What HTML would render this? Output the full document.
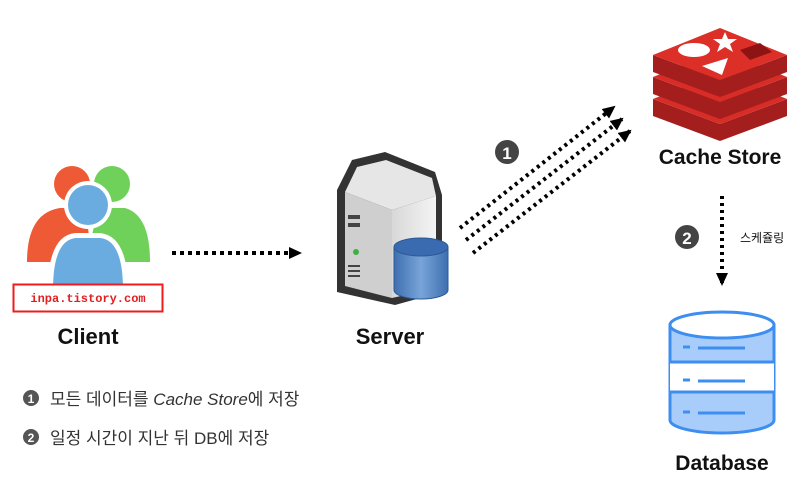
<!DOCTYPE html>
<html><head><meta charset="utf-8"><style>
html,body{margin:0;padding:0;background:#fff;width:810px;height:487px;overflow:hidden}
</style></head><body>
<svg width="810" height="487" viewBox="0 0 810 487" xmlns="http://www.w3.org/2000/svg" font-family="'Liberation Sans','Noto Sans CJK KR',sans-serif">
<defs>
<marker id="ah" markerWidth="13" markerHeight="12" refX="11" refY="6" orient="auto" markerUnits="userSpaceOnUse"><path d="M0,0 L13,6 L0,12 z" fill="#000"/></marker>
<linearGradient id="srv" x1="0" x2="1"><stop offset="0" stop-color="#d8d8d8"/><stop offset="1" stop-color="#f4f4f4"/></linearGradient>
<linearGradient id="cyl" x1="0" x2="1"><stop offset="0" stop-color="#3e6fb0"/><stop offset="0.5" stop-color="#78a4d8"/><stop offset="1" stop-color="#3e6fb0"/></linearGradient>
</defs>
<!-- Client icon -->
<circle cx="72" cy="184" r="18" fill="#ee5a35"/>
<path d="M27,262 Q27,213 60,208 L80,208 Q90,215 90,262 z" fill="#ee5a35"/>
<circle cx="112" cy="184" r="18" fill="#6fd05a"/>
<path d="M90,262 Q90,213 110,208 L125,208 Q150,215 150,262 z" fill="#6fd05a"/>
<circle cx="88" cy="205" r="24" fill="#fff"/>
<circle cx="88" cy="205" r="20" fill="#6aacdf"/>
<path d="M48,290 Q48,236 75,233 L100,233 Q128,236 128,290 z" fill="#fff"/>
<path d="M53,290 Q53,240 76,238 L100,238 Q123,240 123,290 z" fill="#6aacdf"/>
<rect x="13.5" y="284.5" width="149" height="27" fill="#fff" stroke="#ee1c1c" stroke-width="2"/>
<text x="88" y="302" text-anchor="middle" font-family="'Liberation Mono',monospace" font-size="12" font-weight="bold" fill="#e02020">inpa.tistory.com</text>
<text x="88" y="344" text-anchor="middle" font-size="22" font-weight="bold" fill="#111">Client</text>
<!-- client->server -->
<line x1="172" y1="253" x2="300" y2="253" stroke="#000" stroke-width="4" stroke-dasharray="4,4" marker-end="url(#ah)"/>
<!-- Server -->
<path d="M337,190 L352,160 L385,152 L435,172 L442,195 L442,292 L395,305 L337,292 z" fill="#333"/>
<path d="M345,192 L357,167 L386,160 L432,178 L436,196 L392,210 z" fill="#e6e6e6"/>
<path d="M345,192 L392,210 L392,298 L345,286 z" fill="#cfcfcf"/>
<path d="M392,210 L436,196 L436,288 L392,298 z" fill="url(#srv)"/>
<rect x="348" y="215" width="12" height="4" fill="#444"/>
<rect x="348" y="223" width="12" height="4" fill="#444"/>
<circle cx="356" cy="252" r="3" fill="#3fb040"/>
<rect x="348" y="265" width="12" height="2" fill="#444"/>
<rect x="348" y="270" width="12" height="2" fill="#444"/>
<rect x="348" y="275" width="12" height="2" fill="#444"/>
<path d="M394,247 L394,290 A27,9 0 0 0 448,290 L448,247 z" fill="url(#cyl)" stroke="#2b5a95" stroke-width="1"/>
<ellipse cx="421" cy="247" rx="27" ry="9" fill="#3a6bb0" stroke="#2b5a95"/>
<text x="390" y="344" text-anchor="middle" font-size="22" font-weight="bold" fill="#111">Server</text>
<!-- diagonal arrows -->
<line x1="460" y1="228" x2="614" y2="107" stroke="#000" stroke-width="4" stroke-dasharray="3,4" marker-end="url(#ah)"/>
<line x1="466" y1="240" x2="622" y2="119" stroke="#000" stroke-width="4" stroke-dasharray="3,4" marker-end="url(#ah)"/>
<line x1="473" y1="253" x2="630" y2="131" stroke="#000" stroke-width="4" stroke-dasharray="3,4" marker-end="url(#ah)"/>
<circle cx="507" cy="152" r="12" fill="#444"/>
<text x="507" y="159" text-anchor="middle" font-size="17" font-weight="bold" fill="#fff">1</text>
<!-- Redis -->
<g>
<path d="M653,99 L720,124 L787,99 L787,116 L720,141 L653,116 z" fill="#a41e1e"/>
<path d="M653,99 L720,72 L787,99 L720,124 z" fill="#d82c26"/>
<path d="M653,77 L720,102 L787,77 L787,94 L720,119 L653,94 z" fill="#a41e1e"/>
<path d="M653,77 L720,50 L787,77 L720,102 z" fill="#d82c26"/>
<path d="M653,55 L720,80 L787,55 L787,72 L720,97 L653,72 z" fill="#a41e1e"/>
<path d="M653,55 L720,28 L787,55 L720,80 z" fill="#dc2f28"/>
<ellipse cx="694" cy="50" rx="16" ry="7" fill="#fff"/>
<path d="M702,66 L728,58 L722,75 z" fill="#fff"/>
<path d="M725,32 L728,39 L737,39 L730,44 L733,52 L725,47 L717,52 L720,44 L713,39 L722,39 z" fill="#fff"/>
<path d="M740,50 L760,43 L772,52 L750,60 z" fill="#8e1414"/>
</g>
<text x="720" y="164" text-anchor="middle" font-size="21" font-weight="bold" fill="#111">Cache Store</text>
<!-- vertical arrow -->
<line x1="722" y1="196" x2="722" y2="284" stroke="#000" stroke-width="4" stroke-dasharray="3,4" marker-end="url(#ah)"/>
<circle cx="687" cy="237" r="12" fill="#444"/>
<text x="687" y="244" text-anchor="middle" font-size="17" font-weight="bold" fill="#fff">2</text>
<text x="740" y="242" font-size="12" fill="#111">스케쥴링</text>
<!-- Database -->
<g stroke="#3d8ef0" stroke-width="3">
<path d="M670,325 L670,420 A52,13 0 0 0 774,420 L774,325 z" fill="#a9cdfb"/>
<rect x="670" y="362" width="104" height="30" fill="#fff" stroke="none"/>
<line x1="670" y1="362" x2="774" y2="362"/>
<line x1="670" y1="392" x2="774" y2="392"/>
<ellipse cx="722" cy="325" rx="52" ry="13" fill="#fff"/>
<line x1="683" y1="347" x2="690" y2="347"/><line x1="698" y1="348" x2="745" y2="348"/>
<line x1="683" y1="380" x2="690" y2="380"/><line x1="698" y1="381" x2="745" y2="381"/>
<line x1="683" y1="412" x2="690" y2="412"/><line x1="698" y1="413" x2="745" y2="413"/>
</g>
<text x="722" y="470" text-anchor="middle" font-size="21" font-weight="bold" fill="#111">Database</text>
<!-- Legend -->
<circle cx="31" cy="398" r="8" fill="#555"/>
<text x="31" y="403" text-anchor="middle" font-size="12" font-weight="bold" fill="#fff">1</text>
<text x="50" y="405" font-size="17" fill="#333">모든 데이터를 <tspan font-style="italic">Cache Store</tspan>에 저장</text>
<circle cx="31" cy="437" r="8" fill="#555"/>
<text x="31" y="442" text-anchor="middle" font-size="12" font-weight="bold" fill="#fff">2</text>
<text x="50" y="444" font-size="17" fill="#333">일정 시간이 지난 뒤 DB에 저장</text>
</svg>
</body></html>
